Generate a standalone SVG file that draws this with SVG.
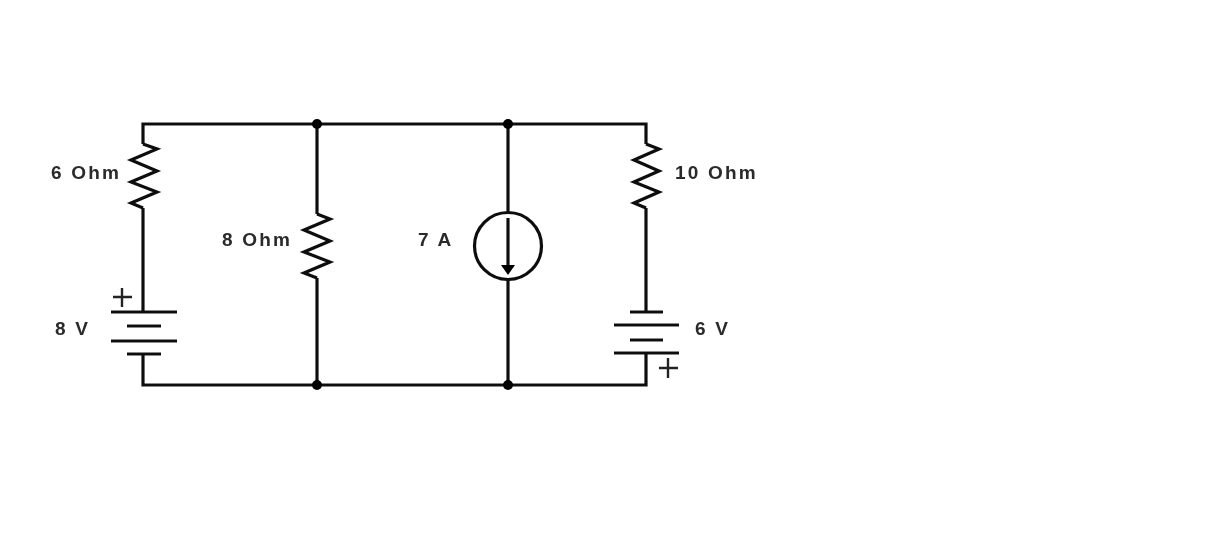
<svg xmlns="http://www.w3.org/2000/svg" width="1224" height="541" viewBox="0 0 1224 541">
<style>
.w{fill:none;stroke:#111;stroke-width:3.2;stroke-linejoin:miter}
.b{fill:none;stroke:#111;stroke-width:3}
.p{fill:none;stroke:#222;stroke-width:2.4}
.d{fill:#000}
text{font-family:"Liberation Sans",Arial,sans-serif;font-size:19px;font-weight:bold;fill:#2a2a2a;letter-spacing:2.2px}
</style>
<defs><filter id="s" x="-5%" y="-5%" width="110%" height="110%"><feGaussianBlur stdDeviation="0.6"/></filter></defs>
<rect width="1224" height="541" fill="#fff"/>
<g filter="url(#s)">
<g id="connectors">
<path class="w" d="M143 144V124H646V144"/>
<path class="w" d="M143 208V312"/>
<path class="w" d="M143 354V385H646V353"/>
<path class="w" d="M317 124V214"/>
<path class="w" d="M317 278V385"/>
<path class="w" d="M508 124V212"/>
<path class="w" d="M508 280V385"/>
<path class="w" d="M646 208V312"/>
</g>
<g id="dot-top-1"><circle class="d" cx="317" cy="124" r="5"/></g>
<g id="dot-top-2"><circle class="d" cx="508" cy="124" r="5"/></g>
<g id="dot-bottom-1"><circle class="d" cx="317" cy="385" r="5"/></g>
<g id="dot-bottom-2"><circle class="d" cx="508" cy="385" r="5"/></g>
<g id="r-6"><path class="w" d="M143 144L157 149L131 160L157 171L131 182L157 192L131 203L143 208"/><text x="51" y="179">6 Ohm</text></g>
<g id="r-8"><path class="w" d="M317 214L330 219L304 230L330 241L304 252L330 262L304 273L317 278"/><text x="222" y="246">8 Ohm</text></g>
<g id="r-10"><path class="w" d="M646 144L659 149L634 160L659 171L634 182L659 192L634 203L646 208"/><text x="675" y="179">10 Ohm</text></g>
<g id="bat-8"><path class="b" d="M111 312H177M127 326H161M111 341H177M127 354H161"/><path class="p" d="M113 297H132M122 288V307"/><text x="55" y="335">8 V</text></g>
<g id="bat-6"><path class="b" d="M630 312H663M614 325H679M630 340H663M614 353H679"/><path class="p" d="M659 368H678M668 358V378"/><text x="695" y="335">6 V</text></g>
<g id="src-7"><circle class="w" cx="508" cy="246" r="33.5"/><path class="w" d="M508 218V268"/><path class="d" d="M501 265H515L508 275Z"/><text x="418" y="246">7 A</text></g>
</g>
</svg>
